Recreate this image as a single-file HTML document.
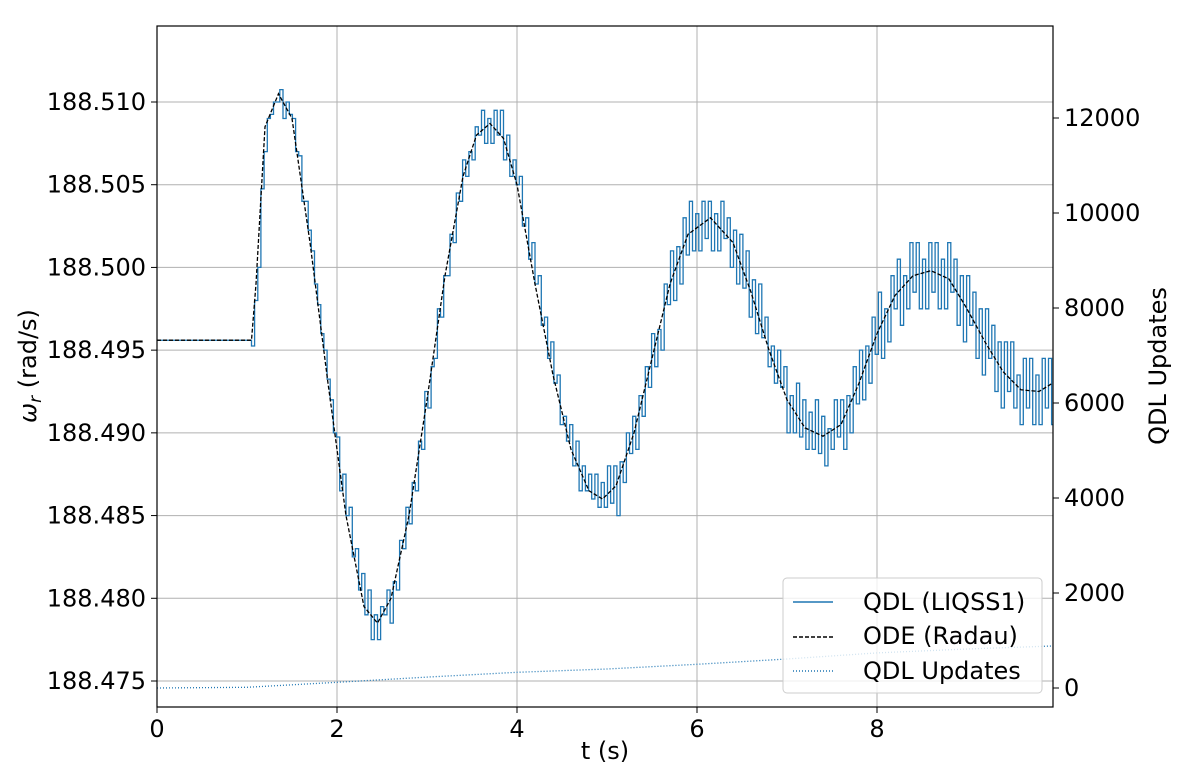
<!DOCTYPE html>
<html><head><meta charset="utf-8"><style>
body{margin:0;background:#fff;}
svg text{font-family:"DejaVu Sans","Liberation Sans",sans-serif;fill:#000;}
</style></head><body>
<svg id="chart" width="1200" height="766" xmlns="http://www.w3.org/2000/svg">
<rect width="1200" height="766" fill="#fff"/>
<g id="grid"></g>
<g id="series"></g>
<rect x="157" y="26" width="896" height="681" fill="none" stroke="#000" stroke-width="1.2"/>
<g id="axes"></g>
<text x="605" y="759" font-size="24" text-anchor="middle">t (s)</text>
<text transform="translate(36,366) rotate(-90)" font-size="24" text-anchor="middle"><tspan font-style="italic">ω</tspan><tspan font-size="17" dy="5" font-style="italic">r</tspan><tspan dy="-5"> (rad/s)</tspan></text>
<text transform="translate(1166,366) rotate(-90)" font-size="24" text-anchor="middle">QDL Updates</text>
<g>
<rect x="783" y="578" width="259" height="115" rx="4" fill="#fff" fill-opacity="0.8" stroke="#ccc"/>
<g><line x1="793" y1="602" x2="833" y2="602" stroke="#1f77b4" stroke-width="1.5"/><text x="863" y="610" font-size="24">QDL (LIQSS1)</text></g>
<g><line x1="793" y1="637" x2="833" y2="637" stroke="#000" stroke-width="1.5" stroke-dasharray="4,2"/><text x="863" y="644" font-size="24">ODE (Radau)</text></g>
<g><line x1="793" y1="671" x2="833" y2="671" stroke="#1f77b4" stroke-width="1.5" stroke-dasharray="1,2"/><text x="863" y="679" font-size="24">QDL Updates</text></g>
</g>
</svg>
<script>
const xTicks=[0,2,4,6,8];
const yTicks=[188.475,188.480,188.485,188.490,188.495,188.500,188.505,188.510];
const y2Ticks=[0,2000,4000,6000,8000,10000,12000];
const odeT=[0,1.05,1.1,1.2,1.35,1.5,1.7,1.9,2.1,2.3,2.45,2.6,2.8,3.0,3.2,3.4,3.55,3.7,3.85,4.0,4.2,4.4,4.6,4.8,4.95,5.1,5.3,5.5,5.7,5.9,6.15,6.4,6.6,6.8,7.0,7.2,7.4,7.6,7.8,8.0,8.2,8.4,8.6,8.8,9.0,9.2,9.4,9.6,9.8,9.95];
const odeV=[188.4956,188.4956,188.4990,188.5085,188.5105,188.5090,188.5015,188.4930,188.4850,188.4795,188.4785,188.4800,188.4850,188.4920,188.4995,188.5055,188.5080,188.5087,188.5078,188.5050,188.4990,188.4935,188.4890,188.4865,188.4860,188.4868,188.4900,188.4945,188.4990,188.5020,188.5030,188.5015,188.4985,188.4950,188.4920,188.4903,188.4898,188.4905,188.4930,188.4960,188.4983,188.4995,188.4998,188.4993,188.4975,188.4955,188.4937,188.4926,188.4925,188.4930];
const updT=[0,1,2,3,4,5,6,7,8,9,9.95];
const updV=[0,15,120,230,330,400,500,610,740,820,885];
const quantum=0.001;

const X=t=>157+t*90;
const Y=v=>681-(v-188.475)*16543;
const Y2=u=>688-u*0.0475;
const NS="http://www.w3.org/2000/svg";
function mk(tag,attrs,parent){const e=document.createElementNS(NS,tag);for(const k in attrs)e.setAttribute(k,attrs[k]);parent.appendChild(e);return e;}
const grid=document.getElementById('grid'),axes=document.getElementById('axes'),series=document.getElementById('series');
xTicks.forEach(t=>{
 const l=mk('line',{x1:X(t),x2:X(t),y1:26,y2:707,stroke:'#b0b0b0','stroke-width':1},grid);
 
 
 mk('line',{x1:X(t),x2:X(t),y1:707,y2:713,stroke:'#000'},axes);
 const tx=mk('text',{x:X(t),y:737,'font-size':24,'text-anchor':'middle'},axes);tx.textContent=t;
 
 
});
yTicks.forEach(v=>{
 const l=mk('line',{x1:157,x2:1053,y1:Y(v),y2:Y(v),stroke:'#b0b0b0','stroke-width':1},grid);
 
 
 mk('line',{x1:151,x2:157,y1:Y(v),y2:Y(v),stroke:'#000'},axes);
 const tx=mk('text',{x:146,y:Y(v)+8,'font-size':24,'text-anchor':'end'},axes);tx.textContent=v.toFixed(3);
 
 
});
y2Ticks.forEach(u=>{
 mk('line',{x1:1053,x2:1059,y1:Y2(u),y2:Y2(u),stroke:'#000'},axes);
 const tx=mk('text',{x:1064,y:Y2(u)+8,'font-size':24},axes);tx.textContent=u;
 
 
});
function ode(t){for(let i=1;i<odeT.length;i++){if(t<=odeT[i]){const f=(t-odeT[i-1])/(odeT[i]-odeT[i-1]);return odeV[i-1]+f*(odeV[i]-odeV[i-1]);}}return odeV[odeV.length-1];}
let d='M'+X(0)+','+Y(odeV[0]);let t=1.05;let k=0;
d+=' H'+X(t);
while(t<9.95){
 const base=Math.round((ode(t)-188.4955)/quantum)*quantum+188.4955;
 const amp=t<2?0.5:(t<5?1:(t<8?1.5:2));
 const s=(k%2?1:-1)*amp*quantum*((k%3)?1:0.5);
 const v=base+s;
 d+=' V'+Y(v).toFixed(1);t+=0.035;k++;d+=' H'+X(Math.min(t,9.95)).toFixed(1);
}
const q=mk('path',{d:d,fill:'none',stroke:'#1f77b4','stroke-width':1.3},series);


let d2='';odeT.forEach((tt,i)=>{d2+=(i?' L':'M')+X(tt).toFixed(1)+','+Y(odeV[i]).toFixed(1);});
const o=mk('path',{d:d2,fill:'none',stroke:'#000','stroke-width':1.3,'stroke-dasharray':'4,2'},series);


let d3='';updT.forEach((tt,i)=>{d3+=(i?' L':'M')+X(tt).toFixed(1)+','+Y2(updV[i]).toFixed(1);});
const u=mk('path',{d:d3,fill:'none',stroke:'#1f77b4','stroke-width':1.3,'stroke-dasharray':'1,2'},series);


</script>
</body></html>
